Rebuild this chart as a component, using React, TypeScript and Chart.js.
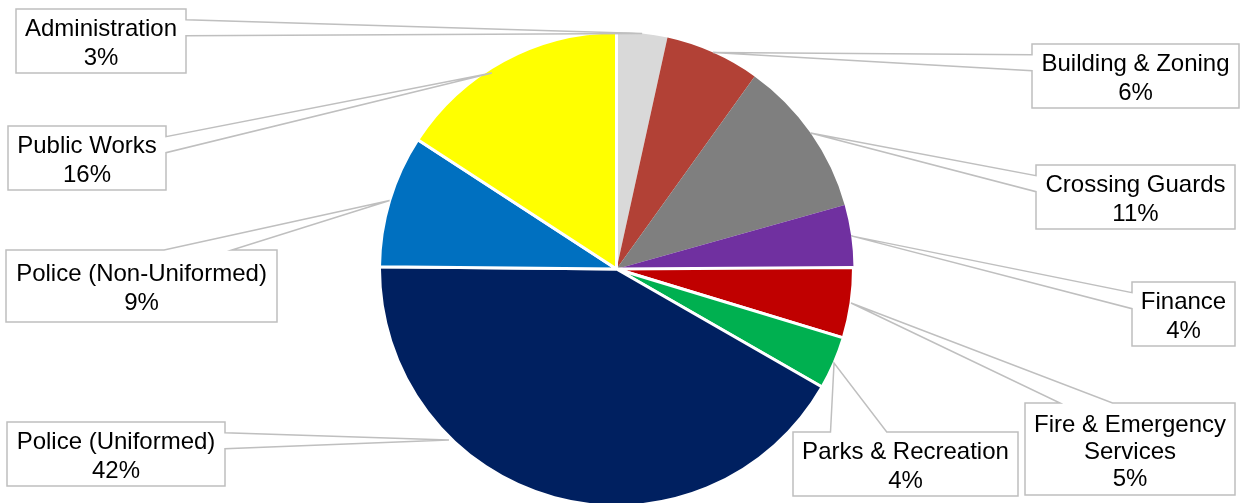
import React, { useEffect, useRef } from 'react';
import { Chart, registerables } from 'chart.js';

Chart.register(...registerables);

// ---- data ----
const categories = [
  'Administration',
  'Building & Zoning',
  'Crossing Guards',
  'Finance',
  'Fire & Emergency Services',
  'Parks & Recreation',
  'Police (Uniformed)',
  'Police (Non-Uniformed)',
  'Public Works',
];
const values = [3.45, 6.45, 10.74, 4.25, 4.8, 3.6, 41.85, 9.03, 15.82];
const colors = [
  '#D9D9D9',
  '#B24136',
  '#7F7F7F',
  '#7030A0',
  '#C00000',
  '#00B050',
  '#002060',
  '#0070C0',
  '#FFFF00',
];
const sliceBorders = [0, 0, 0, 0, 3, 3, 3, 3, 3];

// ---- callout layout (label boxes): left, top, width, height, tip position within slice, tip radius ratio ----
const calloutLayout = [
  [16, 9, 170, 64, 0.5, 1.0],
  [1032, 44, 207, 64, 0.5, 1.0],
  [1036, 165, 199, 64, 0.5, 1.0],
  [1132, 282, 103, 64, 0.5, 1.0],
  [1025, 403, 210, 92, 0.5, 1.0],
  [793, 432, 225, 64, 0.5, 1.0],
  [7, 422, 218, 64, 0.694, 1.01],
  [6, 250, 271, 72, 0.5, 1.0],
  [8, 126, 158, 64, 0.43, 0.98],
];

const FONT = '24px "Liberation Sans", Arial, Helvetica, sans-serif';

function wrapText(ctx: CanvasRenderingContext2D, text: string, maxW: number): string[] {
  const words = text.split(' ');
  const lines: string[] = [];
  let cur = '';
  for (const w of words) {
    const test = cur ? cur + ' ' + w : w;
    if (cur && ctx.measureText(test).width > maxW) {
      lines.push(cur);
      cur = w;
    } else {
      cur = test;
    }
  }
  if (cur) lines.push(cur);
  return lines;
}

const calloutPlugin = {
  id: 'excelCallouts',
  afterDatasetsDraw(chart: any) {
    const ctx: CanvasRenderingContext2D = chart.ctx;
    const meta = chart.getDatasetMeta(0);
    const total = values.reduce((a, b) => a + b, 0);
    ctx.save();
    ctx.font = FONT;
    meta.data.forEach((arc: any, i: number) => {
      const p = arc.getProps(['x', 'y', 'startAngle', 'endAngle', 'outerRadius'], true);
      const [l, t, w, h, frac, rr] = calloutLayout[i];
      const ang = p.startAngle + (p.endAngle - p.startAngle) * frac;
      const tipX = p.x + Math.cos(ang) * p.outerRadius * rr;
      const tipY = p.y + Math.sin(ang) * p.outerRadius * rr;

      // wedge rectangle callout geometry
      const hc = l + w / 2;
      const vc = t + h / 2;
      const dx = tipX - hc;
      const dy = tipY - vc;
      const dq = (dx * h) / w;
      const dz = Math.abs(dy) - Math.abs(dq);
      const x1 = l + (w * (dx > 0 ? 7 : 2)) / 12;
      const x2 = l + (w * (dx > 0 ? 10 : 5)) / 12;
      const y1 = t + (h * (dy > 0 ? 7 : 2)) / 12;
      const y2 = t + (h * (dy > 0 ? 10 : 5)) / 12;
      const r = l + w;
      const b = t + h;

      ctx.beginPath();
      ctx.moveTo(l, t);
      if (dz > 0 && dy < 0) {
        ctx.lineTo(x1, t);
        ctx.lineTo(tipX, tipY);
        ctx.lineTo(x2, t);
      }
      ctx.lineTo(r, t);
      if (dz <= 0 && dx > 0) {
        ctx.lineTo(r, y1);
        ctx.lineTo(tipX, tipY);
        ctx.lineTo(r, y2);
      }
      ctx.lineTo(r, b);
      if (dz > 0 && dy > 0) {
        ctx.lineTo(x2, b);
        ctx.lineTo(tipX, tipY);
        ctx.lineTo(x1, b);
      }
      ctx.lineTo(l, b);
      if (dz <= 0 && dx < 0) {
        ctx.lineTo(l, y2);
        ctx.lineTo(tipX, tipY);
        ctx.lineTo(l, y1);
      }
      ctx.closePath();
      ctx.fillStyle = '#FFFFFF';
      ctx.fill();
      ctx.strokeStyle = '#BFBFBF';
      ctx.lineWidth = 1.5;
      ctx.lineJoin = 'miter';
      ctx.stroke();

      const pct = Math.round((values[i] / total) * 100) + '%';
      const lines = wrapText(ctx, categories[i], w - 8).concat(pct);
      const lh = lines.length > 2 ? 27 : 28.5;
      ctx.fillStyle = '#000000';
      ctx.textAlign = 'center';
      ctx.textBaseline = 'alphabetic';
      lines.forEach((ln, k) => {
        const cy = vc + (k - (lines.length - 1) / 2) * lh;
        ctx.fillText(ln, hc, cy + 9.5);
      });
    });
    ctx.restore();
  },
};

export default function App() {
  const ref = useRef<HTMLCanvasElement>(null);
  useEffect(() => {
    const canvas = ref.current;
    if (!canvas) return;
    const chart = new Chart(canvas, {
      type: 'pie',
      data: {
        labels: categories,
        datasets: [
          {
            data: values,
            backgroundColor: colors,
            borderColor: '#FFFFFF',
            borderWidth: sliceBorders,
            hoverBorderWidth: sliceBorders,
            hoverOffset: 0,
          },
        ],
      },
      options: {
        animation: false,
        responsive: false,
        devicePixelRatio: 1,
        events: [],
        radius: 237,
        layout: { padding: { top: 35, bottom: 0, left: 0, right: 8 } },
        plugins: {
          legend: { display: false },
          tooltip: { enabled: false },
        },
      },
      plugins: [calloutPlugin],
    } as any);
    return () => chart.destroy();
  }, []);
  return (
    <div style={{ position: 'fixed', left: 0, top: 0, width: 1241, height: 503, background: '#FFFFFF' }}>
      <canvas ref={ref} width={1241} height={503} style={{ display: 'block' }} />
    </div>
  );
}
